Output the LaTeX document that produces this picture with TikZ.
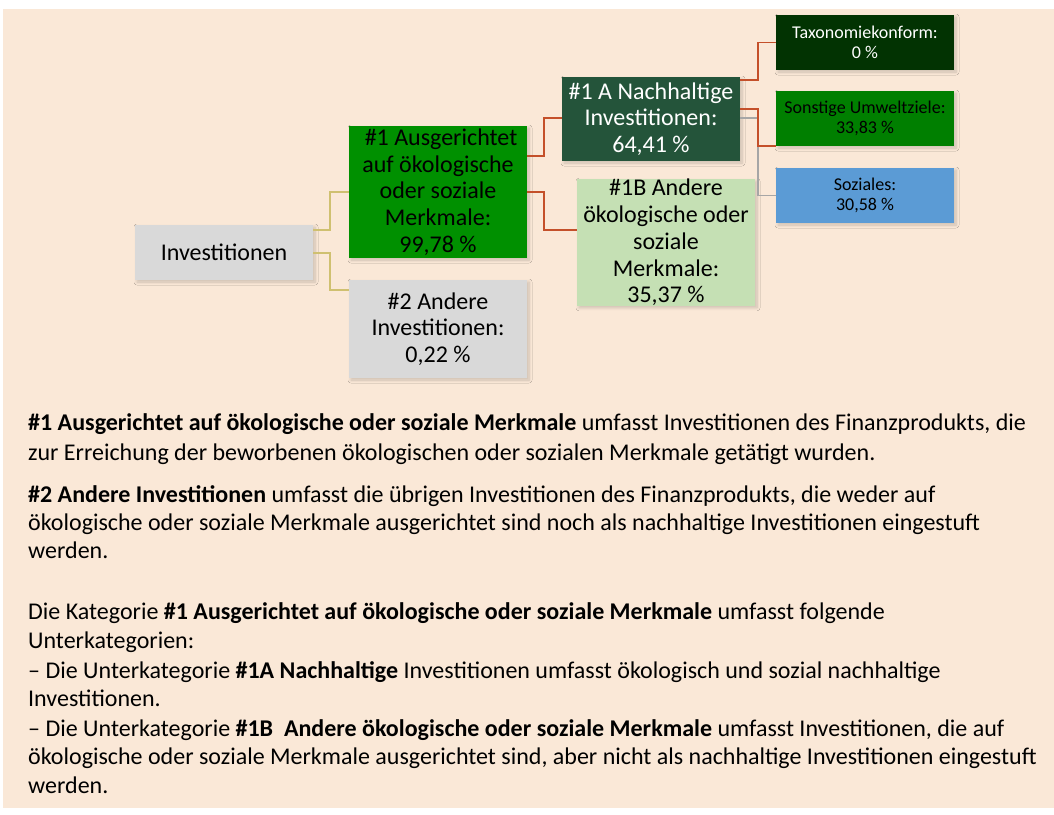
\documentclass[tikz,border=0pt]{standalone}
\usepackage{fontspec}
\setmainfont{Carlito}
\usetikzlibrary{calc,shadows.blur}
\definecolor{bg}{HTML}{FAE8D7}
\definecolor{grayb}{HTML}{D9D9D9}
\definecolor{greenA}{HTML}{009000}
\definecolor{greenS}{HTML}{007F00}
\definecolor{greenT}{HTML}{023302}
\definecolor{greenN}{HTML}{24543A}
\definecolor{greenL}{HTML}{C5E0B4}
\definecolor{blueS}{HTML}{5B9BD5}
\definecolor{redl}{HTML}{C4502A}
\definecolor{yell}{HTML}{CFC070}
\definecolor{grayl}{HTML}{A6A6A6}
\begin{document}
\begin{tikzpicture}[x=1pt,y=-1pt,
  box/.style={inner sep=0pt, minimum width=178pt, align=center,
    blur shadow={shadow xshift=2pt, shadow yshift=-2pt, shadow blur radius=3pt, shadow blur steps=8, shadow opacity=18}},
  big/.style={font=\fontsize{24}{26.7}\selectfont},
  small/.style={font=\fontsize{18}{20.3}\selectfont},
  body/.style={anchor=base west, inner sep=0pt, font=\fontsize{24}{28}\selectfont},
  conn/.style={line width=1.5pt},
  redc/.style={conn, draw=redl},
  yelc/.style={conn, draw=yell},
  grac/.style={conn, draw=grayl}]
\useasboundingbox (0,0) rectangle (1054,814);
\fill[bg] (3,9) rectangle (1054,808);

% boxes
\node[box, big, fill=grayb, minimum height=55pt] (inv) at (224,252.5) {Investitionen};
\node[box, big, fill=greenA, minimum height=132pt] (a1) at (438,192) {\hspace*{6pt}\#1 Ausgerichtet\\auf ökologische\\oder soziale\\Merkmale:\\99,78 \%};
\node[box, big, fill=grayb, minimum height=98pt] (a2) at (438,329) {\#2 Andere\\Investitionen:\\0,22 \%};
\node[box, big, fill=greenN, text=white, minimum height=84pt] (a1a) at (651,119) {\#1 A Nachhaltige\\Investitionen:\\64,41 \%};
\node[box, big, fill=greenL, minimum height=125pt] (a1b) at (666,242.5) {\#1B Andere\\ökologische oder\\soziale\\Merkmale:\\35,37 \%};
\node[box, small, fill=greenT, text=white, minimum height=55pt] (tax) at (865,42.5) {Taxonomiekonform:\\0 \%};
\node[box, small, fill=greenS, minimum height=55pt] (son) at (865,118.5) {Sonstige Umweltziele:\\33,83 \%};
\node[box, small, fill=blueS, minimum height=55pt] (soz) at (865,195.5) {Soziales:\\30,58 \%};

% connectors
\draw[yelc] ($(inv.east)+(0,-22.5)$) -- ++(17,0) |- (a1.west);
\draw[yelc] ($(inv.east)+(0,0.5)$) -- ++(17,0) |- ($(a2.west)+(0,-39)$);
\draw[redc] ($(a1.east)+(0,-36)$) -- ++(17,0) |- ($(a1a.west)+(0,-1)$);
\draw[redc] (a1.east) -- ++(17,0) |- ($(a1b.west)+(0,-12.5)$);
\draw[grac] ($(a1a.east)+(0,-1)$) -- ++(18,0) |- (soz.west);
\draw[redc] ($(a1a.east)+(0,-39)$) -- ++(18,0) |- (tax.west);
\draw[redc] ($(a1a.east)+(0,-10)$) -- ++(18,0) |- (son.south west);

% text
\node[body] (t1) at (28,430) {\textbf{\#1 Ausgerichtet auf ökologische oder soziale Merkmale} umfasst Investitionen des Finanzprodukts, die};
\node[body] (t2) at (28,460) {zur Erreichung der beworbenen ökologischen oder sozialen Merkmale getätigt wurden.};
\node[body] (t3) at (28,502) {\textbf{\#2 Andere Investitionen} umfasst die übrigen Investitionen des Finanzprodukts, die weder auf};
\node[body] (t4) at (28,530) {ökologische oder soziale Merkmale ausgerichtet sind noch als nachhaltige Investitionen eingestuft};
\node[body] (t5) at (28,558) {werden.};
\node[body] (t6) at (28,619) {Die Kategorie \textbf{\#1 Ausgerichtet auf ökologische oder soziale Merkmale} umfasst folgende};
\node[body] (t7) at (28,648) {Unterkategorien:};
\node[body] (t8) at (28,678) {– Die Unterkategorie \textbf{\#1A Nachhaltige} Investitionen umfasst ökologisch und sozial nachhaltige};
\node[body] (t9) at (28,706) {Investitionen.};
\node[body] (t10) at (28,736) {– Die Unterkategorie \textbf{\#1B\ \ Andere ökologische oder soziale Merkmale} umfasst Investitionen, die auf};
\node[body] (t11) at (28,764) {ökologische oder soziale Merkmale ausgerichtet sind, aber nicht als nachhaltige Investitionen eingestuft};
\node[body] (t12) at (28,793) {werden.};
\end{tikzpicture}
\end{document}
